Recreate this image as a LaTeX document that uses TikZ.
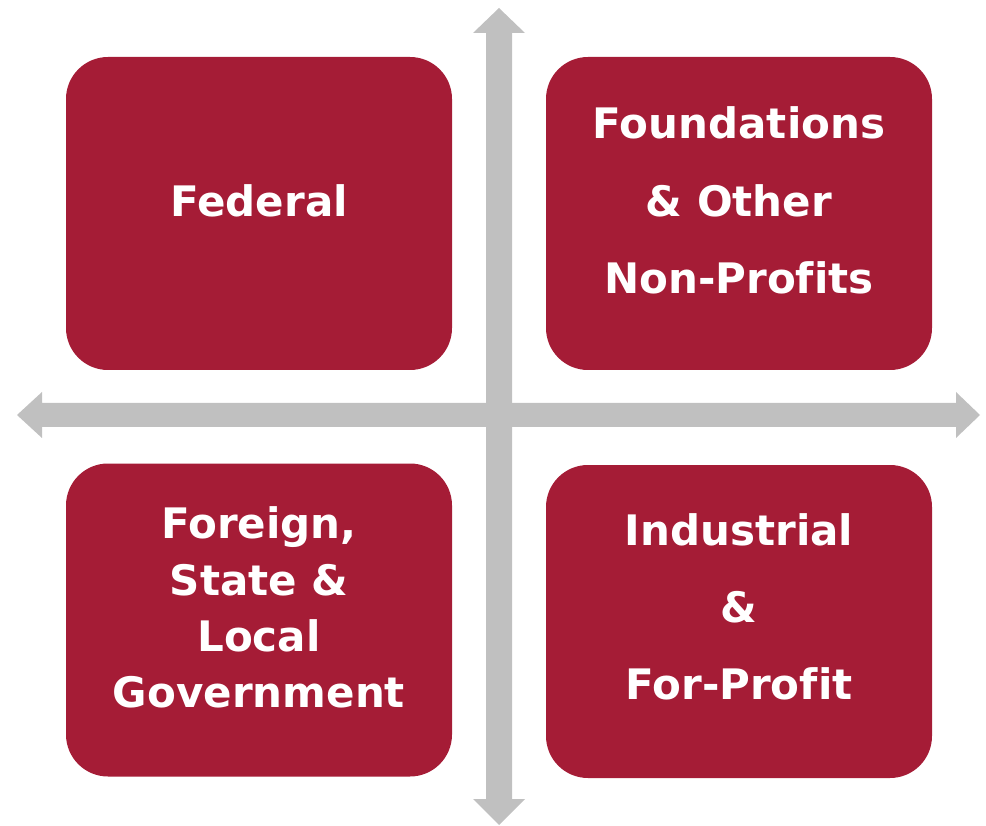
\documentclass[tikz,border=0pt]{standalone}
\usepackage{fontspec}
\setmainfont[Ligatures=NoCommon]{DejaVu Sans}
\definecolor{boxred}{RGB}{165,28,54}
\definecolor{axisgray}{RGB}{192,192,192}
\begin{document}
\begin{tikzpicture}[x=1pt,y=-1pt,
  quad/.style={fill=boxred,draw=none,rounded corners=42pt,minimum width=386pt,minimum height=313pt,inner sep=0pt},
  lbl/.style={text=white,anchor=base,inner sep=0pt,font=\fontsize{42}{50}\selectfont\bfseries},
  axis/.style={fill=axisgray,draw=none}]
\useasboundingbox (0,0) rectangle (986,826);
% axes
\fill[axis] (486,33) -- (473,33) -- (499,8) -- (525,33) -- (512,33) -- (512,799) -- (525,799) -- (499,825) -- (473,799) -- (486,799) -- cycle;
\fill[axis] (42,403) -- (42,392) -- (17,415) -- (42,438) -- (42,427) -- (956,427) -- (956,438) -- (980,415) -- (956,392) -- (956,403) -- cycle;
% boxes
\node[quad] (fed) at (259,213.5) {};
\node[quad] (fnd) at (739,213.5) {};
\node[quad] (gov) at (259,620) {};
\node[quad] (ind) at (739,621.5) {};
% labels
\node[lbl] (fedA) at (259,216.7) {Federal};
\node[lbl] (fndA) at (739,138.3) {Foundations};
\node[lbl] (fndB) at (739,216.7) {\& Other};
\node[lbl] (fndC) at (739,293.3) {Non-Profits};
\node[lbl] (govA) at (259,538.5) {Foreign,};
\node[lbl] (govB) at (259,595) {State \&};
\node[lbl] (govC) at (259,651) {Local};
\node[lbl] (govD) at (259,707) {Government};
\node[lbl] (indA) at (739,545.7) {Industrial};
\node[lbl] (indB) at (739,622.7) {\&};
\node[lbl] (indC) at (739,699) {For-Profit};
\end{tikzpicture}
\end{document}
